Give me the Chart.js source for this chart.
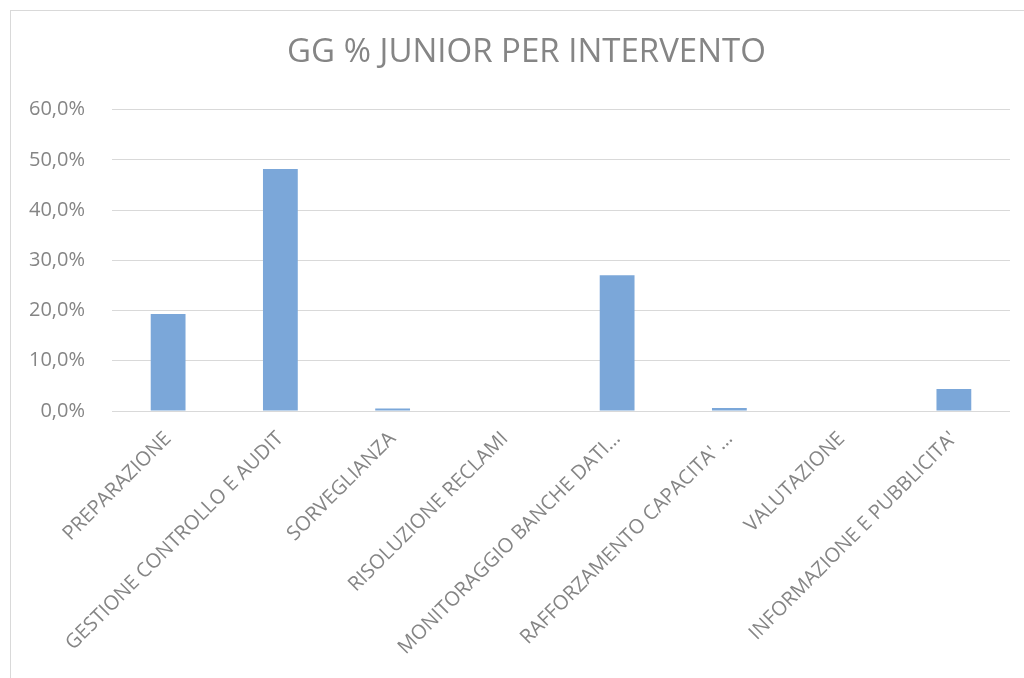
<!DOCTYPE html>
<html>
<head>
<meta charset="utf-8">
<script src="https://cdn.jsdelivr.net/npm/chart.js@4"></script>
<style>
  body { margin: 0; background: #fff; overflow: hidden; }
  #frame { position: absolute; left: 10px; top: 10px; width: 1040px; height: 680px; border: 1px solid #d9d9d9; }
  /* canvas runs a bit past the window so the title centre sits where Excel put it */
  #wrap { position: absolute; left: 0; top: 0; width: 1031px; height: 667px; }
</style>
</head>
<body>
<div id="frame"><div id="wrap"><canvas id="chart"></canvas></div></div>
<script>
const categories = [
  'PREPARAZIONE',
  'GESTIONE CONTROLLO E AUDIT',
  'SORVEGLIANZA',
  'RISOLUZIONE RECLAMI',
  'MONITORAGGIO BANCHE DATI…',
  "RAFFORZAMENTO CAPACITA' …",
  'VALUTAZIONE',
  "INFORMAZIONE E PUBBLICITA'"
];
const juniorPct = [19.3, 48.2, 0.5, 0, 27.0, 0.6, 0, 4.4];
const yTicks = [0, 10, 20, 30, 40, 50, 60];

const grey = '#858585';
const ctx = document.getElementById('chart');

new Chart(ctx, {
  type: 'bar',
  data: {
    labels: categories,
    datasets: [{
      label: 'GG % JUNIOR',
      data: juniorPct,
      backgroundColor: '#7ba7d9',
      borderWidth: 0,
      barPercentage: 0.31,
      categoryPercentage: 1,
      yAxisID: 'y'
    }]
  },
  options: {
    responsive: true,
    maintainAspectRatio: false,
    animation: false,
    layout: { padding: 0 },
    plugins: {
      legend: { display: false },
      tooltip: { enabled: false },
      title: {
        display: true,
        text: 'GG % JUNIOR PER INTERVENTO',
        color: grey,
        font: { family: 'Open Sans', size: 33, weight: 'normal', lineHeight: 1.2 },
        padding: { top: 22, bottom: 37 }
      }
    },
    scales: {
      x: {
        grid: { display: false },
        border: { display: false },
        ticks: {
          color: grey,
          font: { family: 'Open Sans', size: 20 },
          minRotation: 45,
          maxRotation: 45,
          autoSkip: false,
          padding: 8
        },
        afterFit: function (axis) { axis.height = 267; }
      },
      y: {
        min: 0,
        max: 60,
        afterBuildTicks: function (axis) {
          axis.ticks = yTicks.map(v => ({ value: v }));
        },
        grid: { color: '#d9d9d9', lineWidth: 1, drawTicks: false },
        border: { display: false },
        ticks: {
          color: grey,
          font: { family: 'Open Sans', size: 20 },
          padding: 27,
          callback: v => v.toFixed(1).replace('.', ',') + '%'
        },
        afterFit: function (axis) { axis.width = 101; }
      },
      // empty right-hand spacer so the plot ends where the original does
      spacer: {
        position: 'right',
        grid: { display: false },
        border: { display: false },
        ticks: { display: false },
        afterFit: function (axis) { axis.width = 32; }
      }
    }
  }
});
</script>
</body>
</html>
